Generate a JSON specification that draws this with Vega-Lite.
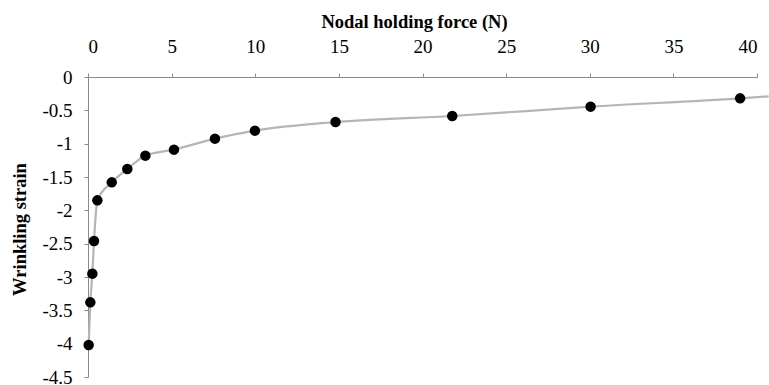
{
  "$schema": "https://vega.github.io/schema/vega-lite/v6.json",
  "autosize": {"type": "none"},
  "width": 669,
  "height": 300,
  "padding": {"left": 88, "top": 77, "right": 12, "bottom": 8},
  "background": "white",
  "config": {
    "view": {"stroke": null},
    "font": "Liberation Serif",
    "axis": {
      "labelFont": "Liberation Serif",
      "titleFont": "Liberation Serif",
      "labelFontSize": 19,
      "titleFontSize": 18.5,
      "labelColor": "black",
      "titleColor": "black",
      "titleFontWeight": "bold",
      "domainColor": "#8a8a8a",
      "tickColor": "#8a8a8a",
      "tickSize": 4,
      "grid": false
    }
  },
  "data": {
    "values": [
      {"force": 0.04, "strain": -4.02, "kind": "point"},
      {"force": 0.14, "strain": -3.38, "kind": "point"},
      {"force": 0.26, "strain": -2.95, "kind": "point"},
      {"force": 0.36, "strain": -2.46, "kind": "point"},
      {"force": 0.56, "strain": -1.85, "kind": "point"},
      {"force": 1.42, "strain": -1.58, "kind": "point"},
      {"force": 2.35, "strain": -1.38, "kind": "point"},
      {"force": 3.43, "strain": -1.18, "kind": "point"},
      {"force": 5.14, "strain": -1.09, "kind": "point"},
      {"force": 7.59, "strain": -0.925, "kind": "point"},
      {"force": 9.98, "strain": -0.805, "kind": "point"},
      {"force": 14.8, "strain": -0.675, "kind": "point"},
      {"force": 21.78, "strain": -0.585, "kind": "point"},
      {"force": 30.05, "strain": -0.445, "kind": "point"},
      {"force": 38.99, "strain": -0.32, "kind": "point"},
      {"force": 40.7, "strain": -0.29, "kind": "line"}
    ]
  },
  "encoding": {
    "x": {
      "field": "force",
      "type": "quantitative",
      "scale": {"domain": [0, 40], "nice": false, "zero": false},
      "axis": {
        "orient": "top",
        "title": "Nodal holding force (N)",
        "values": [0, 5, 10, 15, 20, 25, 30, 35, 40],
        "labelPadding": 21,
        "labelBaseline": "alphabetic",
        "titleX": 326,
        "titleY": -50,
        "titleBaseline": "alphabetic"
      }
    },
    "y": {
      "field": "strain",
      "type": "quantitative",
      "scale": {"domain": [-4.5, 0], "nice": false},
      "axis": {
        "title": "Wrinkling strain",
        "values": [0, -0.5, -1, -1.5, -2, -2.5, -3, -3.5, -4, -4.5],
        "labelExpr": "toString(datum.value)",
        "labelPadding": 12,
        "labelBaseline": "alphabetic",
        "labelOffset": 6,
        "labelBound": false,
        "titleX": -63,
        "titleY": 152,
        "titleAngle": -90,
        "titleBaseline": "alphabetic"
      }
    }
  },
  "layer": [
    {
      "mark": {"type": "line", "color": "#b5b5b5", "strokeWidth": 2.2, "interpolate": "monotone", "clip": false},
      "encoding": {"order": {"field": "force", "type": "quantitative"}}
    },
    {
      "transform": [{"filter": "datum.kind === 'point'"}],
      "mark": {"type": "point", "filled": true, "color": "black", "size": 110, "opacity": 1}
    }
  ]
}
